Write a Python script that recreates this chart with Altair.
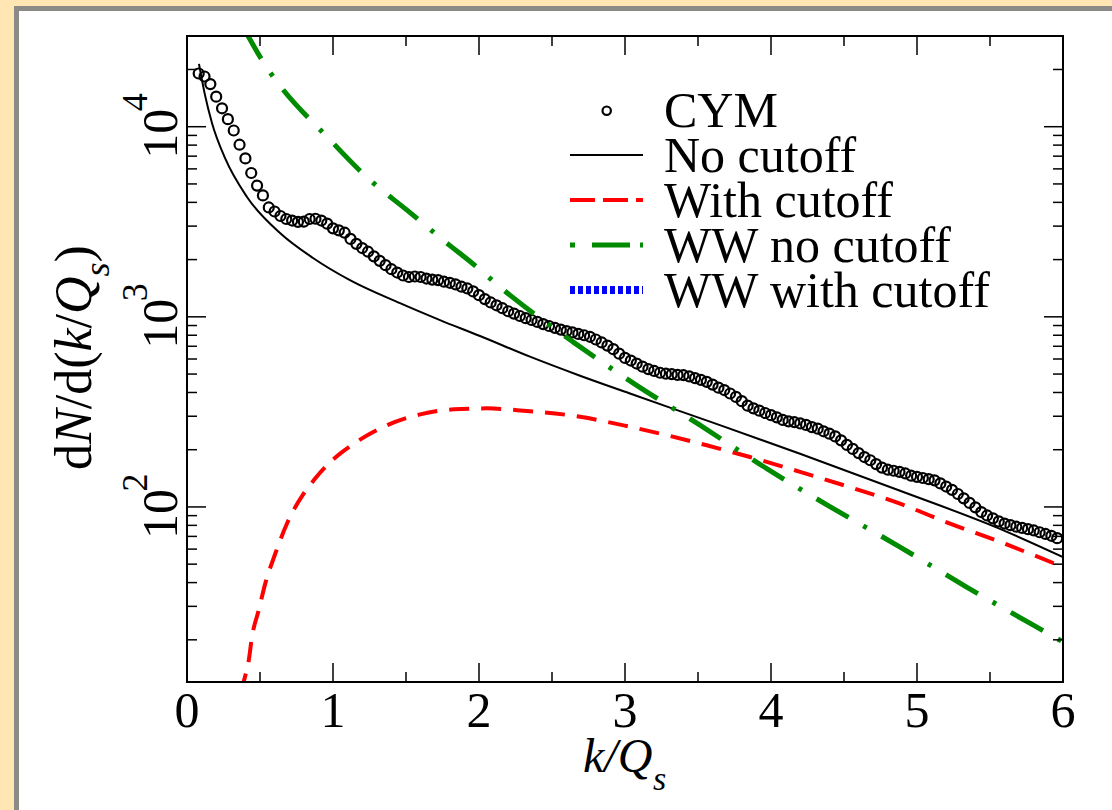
import altair as alt
import pandas as pd

# ---------------- data ----------------
cym_k = [0.08, 0.12, 0.16, 0.20, 0.24, 0.28, 0.32, 0.36, 0.40, 0.44, 0.48, 0.52,
         0.56, 0.60, 0.64, 0.68, 0.72, 0.76, 0.80, 0.84, 0.88, 0.92, 0.96, 1.00,
         1.04, 1.08, 1.12, 1.16, 1.20, 1.24, 1.28, 1.32, 1.36, 1.40, 1.44, 1.48,
         1.52, 1.56, 1.60, 1.64, 1.68, 1.72, 1.76, 1.80, 1.84, 1.88, 1.92, 1.96,
         2.00, 2.04, 2.08, 2.12, 2.16, 2.20, 2.24, 2.28, 2.32, 2.36, 2.40, 2.44,
         2.48, 2.52, 2.56, 2.60, 2.64, 2.68, 2.72, 2.76, 2.80, 2.84, 2.88, 2.92,
         2.96, 3.00, 3.04, 3.08, 3.12, 3.16, 3.20, 3.24, 3.28, 3.32, 3.36, 3.40,
         3.44, 3.48, 3.52, 3.56, 3.60, 3.64, 3.68, 3.72, 3.76, 3.80, 3.84, 3.88,
         3.92, 3.96, 4.00, 4.04, 4.08, 4.12, 4.16, 4.20, 4.24, 4.28, 4.32, 4.36,
         4.40, 4.44, 4.48, 4.52, 4.56, 4.60, 4.64, 4.68, 4.72, 4.76, 4.80, 4.84,
         4.88, 4.92, 4.96, 5.00, 5.04, 5.08, 5.12, 5.16, 5.20, 5.24, 5.28, 5.32,
         5.36, 5.40, 5.44, 5.48, 5.52, 5.56, 5.60, 5.64, 5.68, 5.72, 5.76, 5.80,
         5.84, 5.88, 5.92, 5.96]
cym_v = [19050, 18370, 16750, 14390, 12500, 10960, 9550, 8040, 6810, 5710, 4900, 4350,
         3760, 3580, 3390, 3270, 3210, 3160, 3170, 3270, 3280, 3210, 3090, 2920,
         2850, 2770, 2570, 2420, 2300, 2200, 2080, 1970, 1870, 1780, 1710, 1650,
         1620, 1630, 1620, 1590, 1570, 1560, 1530, 1510, 1480, 1440, 1410, 1360,
         1300, 1240, 1190, 1150, 1110, 1070, 1040, 1010, 984, 962, 940, 916,
         895, 875, 857, 841, 828, 813, 800, 785, 760, 733, 706, 676,
         640, 608, 589, 568, 547, 531, 519, 508, 502, 499, 495, 493,
         486, 476, 466, 455, 440, 424, 412, 395, 379, 360, 341, 330,
         321, 312, 304, 296, 287, 282, 279, 275, 270, 263, 258, 250,
         243, 235, 224, 212, 202, 192, 183, 176, 168, 161, 157, 155,
         153, 150, 146, 144, 142, 140, 138, 133, 128, 123, 117, 111,
         105, 99.5, 94.0, 90.2, 87.1, 83.9, 81.8, 80.2, 78.7, 77.6, 76.4, 75.2,
         73.6, 72.1, 70.5, 68.5]

nocut_k = [0.082, 0.123, 0.171, 0.26, 0.411, 0.637, 0.863, 1.116, 1.459, 1.733,
           2.007, 2.349, 2.692, 3.034, 3.582, 4.199, 4.884, 5.568, 6.0]
nocut_v = [21400, 14700, 10470, 6850, 4270, 2760, 2040, 1560, 1180, 961,
           793, 617, 490, 395, 281, 190.5, 121.6, 76.7, 54.5]

cut_k = [0.37, 0.388, 0.423, 0.445, 0.491, 0.536, 0.605, 0.685, 0.799, 0.868,
         0.959, 1.142, 1.370, 1.598, 1.827, 2.055, 2.260, 2.692, 3.034, 3.560,
         3.856, 4.199, 4.541, 4.884, 5.226, 5.568, 6.0]
cut_v = [10.5, 12.0, 15.6, 20.7, 28.6, 39.5, 56.9, 81.8, 117.5, 138,
         165.6, 215, 269, 307, 326, 330, 323, 298, 264, 211,
         183, 153, 127, 104, 81.7, 65.5, 48.3]

ww_k = [0.38, 0.42, 0.5, 1.002, 1.253, 1.505, 1.801, 1.916, 2.212, 2.646,
        3.080, 3.514, 3.971, 4.427, 4.884, 5.340, 5.797, 6.0]
ww_v = [33600, 29800, 23340, 8180, 5240, 3650, 2370, 2020, 1300, 736,
        436, 269, 159, 98, 61.5, 37.9, 23.9, 19.5]

legend_labels = ["CYM", "No cutoff", "With cutoff", "WW no cutoff", "WW with cutoff"]

x_major = [0, 1, 2, 3, 4, 5, 6]
x_minor = [0.5, 1.5, 2.5, 3.5, 4.5, 5.5]
y_major = [100, 1000, 10000]
y_exp = ["2", "3", "4"]
y_minor = [20, 30, 40, 50, 60, 70, 80, 90,
           200, 300, 400, 500, 600, 700, 800, 900,
           2000, 3000, 4000, 5000, 6000, 7000, 8000, 9000, 20000]

# ---------------- chart ----------------
W, H = 876, 646
FONT = "Liberation Serif"
xs = alt.Scale(domain=[0, 6], nice=False, zero=False)
ys = alt.Scale(type="log", domain=[12, 30000], nice=False)
one = pd.DataFrame({"a": [0]})

def X(f):
    return alt.X(f, type="quantitative", scale=xs, axis=None)

def Y(f):
    return alt.Y(f, type="quantitative", scale=ys, axis=None)

layers = []

# page background panel (grey border + white sheet)
layers.append(alt.Chart(one).mark_rect(color="#8c8a86").encode(
    x=alt.value(-173), x2=alt.value(940), y=alt.value(-30), y2=alt.value(790)))
layers.append(alt.Chart(one).mark_rect(color="white").encode(
    x=alt.value(-168), x2=alt.value(940), y=alt.value(-25), y2=alt.value(790)))

cym = pd.DataFrame({"k": cym_k, "v": cym_v})
nocut = pd.DataFrame({"k": nocut_k, "v": nocut_v})
cut = pd.DataFrame({"k": cut_k, "v": cut_v})
ww = pd.DataFrame({"k": ww_k, "v": ww_v})

layers.append(alt.Chart(cym).mark_point(shape="circle", filled=False, color="black",
                                         size=100, strokeWidth=2.2, opacity=1, clip=True)
              .encode(x=X("k"), y=Y("v")))
layers.append(alt.Chart(nocut).mark_line(color="black", strokeWidth=2, clip=True,
                                          interpolate="monotone")
              .encode(x=X("k"), y=Y("v")))
layers.append(alt.Chart(cut).mark_line(color="#ff0000", strokeWidth=4, clip=True,
                                        interpolate="monotone", strokeDash=[20, 12])
              .encode(x=X("k"), y=Y("v")))
layers.append(alt.Chart(ww).mark_line(color="#008b00", strokeWidth=5, clip=True,
                                       interpolate="monotone", strokeDash=[37, 17, 4, 17])
              .encode(x=X("k"), y=Y("v")))

# inward ticks on all four sides
tick_style = dict(color="black", strokeWidth=1.5)
for vals, ln in ((x_major, 19), (x_minor, 10)):
    d = pd.DataFrame({"t": vals})
    layers.append(alt.Chart(d).mark_rule(**tick_style).encode(
        x=X("t"), y=alt.value(H), y2=alt.value(H - ln)))
    layers.append(alt.Chart(d).mark_rule(**tick_style).encode(
        x=X("t"), y=alt.value(0), y2=alt.value(ln)))
for vals, ln in ((y_major, 19), (y_minor, 10)):
    d = pd.DataFrame({"t": vals})
    layers.append(alt.Chart(d).mark_rule(**tick_style).encode(
        y=Y("t"), x=alt.value(0), x2=alt.value(ln)))
    layers.append(alt.Chart(d).mark_rule(**tick_style).encode(
        y=Y("t"), x=alt.value(W), x2=alt.value(W - ln)))

# frame
layers.append(alt.Chart(one).mark_rect(fillOpacity=0, stroke="black", strokeWidth=2).encode(
    x=alt.value(0), x2=alt.value(W), y=alt.value(0), y2=alt.value(H)))

# x tick labels
xl = pd.DataFrame({"t": x_major, "lab": [str(v) for v in x_major]})
layers.append(alt.Chart(xl).mark_text(font=FONT, fontSize=50, baseline="alphabetic",
                                      align="center", color="black")
              .encode(x=X("t"), y=alt.value(691), text="lab:N"))

# y tick labels 10^n, rotated
yl = pd.DataFrame({"t": y_major, "base": ["10"] * len(y_major), "e": y_exp})
layers.append(alt.Chart(yl).mark_text(font=FONT, fontSize=50, baseline="alphabetic",
                                      align="center", angle=270, dx=-7, color="black")
              .encode(y=Y("t"), x=alt.value(-10), text="base:N"))
layers.append(alt.Chart(yl).mark_text(font=FONT, fontSize=36, baseline="alphabetic",
                                      align="center", angle=270, dx=24.5, color="black")
              .encode(y=Y("t"), x=alt.value(-40), text="e:N"))

# x axis title  k/Q_s
layers.append(alt.Chart(one).mark_text(font=FONT, fontSize=48, fontStyle="italic",
                                       align="left", baseline="alphabetic", text="k/Q")
              .encode(x=alt.value(396), y=alt.value(736)))
layers.append(alt.Chart(one).mark_text(font=FONT, fontSize=34, fontStyle="italic",
                                       align="left", baseline="alphabetic", text="s")
              .encode(x=alt.value(466), y=alt.value(754)))

# y axis title  dN/d(k/Q_s), rotated, built from pieces
pieces = [("d", "normal", 52, 434, -96), ("N", "italic", 52, 408, -96),
          ("/d(", "normal", 52, 373.3, -96), ("k", "italic", 52, 315.5, -96),
          ("/", "normal", 52, 292.4, -96), ("Q", "italic", 52, 277.9, -96),
          ("s", "italic", 36, 240.4, -78), (")", "normal", 52, 226.4, -96)]
for txt, style, fs, py, px in pieces:
    layers.append(alt.Chart(one).mark_text(font=FONT, fontSize=fs, fontStyle=style,
                                           align="left", baseline="alphabetic",
                                           angle=270, text=txt)
                  .encode(x=alt.value(px), y=alt.value(py)))

# legend
for i, lab in enumerate(legend_labels):
    layers.append(alt.Chart(one).mark_text(font=FONT, fontSize=50, align="left",
                                           baseline="alphabetic", text=lab, color="black")
                  .encode(x=alt.value(477), y=alt.value(90.7 + 45 * i)))
layers.append(alt.Chart(one).mark_point(shape="circle", filled=False, color="black",
                                        size=70, strokeWidth=2.2, opacity=1)
              .encode(x=alt.value(419.7), y=alt.value(74.7)))
leg_styles = [dict(color="black", strokeWidth=2),
              dict(color="#ff0000", strokeWidth=4, strokeDash=[25, 8]),
              dict(color="#008b00", strokeWidth=5, strokeDash=[5, 17, 38, 10]),
              dict(color="#0000ff", strokeWidth=8, strokeDash=[5, 3])]
for i, st in enumerate(leg_styles):
    yy = 119 + 45 * i
    layers.append(alt.Chart(one).mark_rule(**st).encode(
        x=alt.value(383), x2=alt.value(456), y=alt.value(yy)))

chart = alt.layer(*layers).properties(
    width=W, height=H,
    autosize=alt.AutoSizeParams(type="none"),
    padding={"left": 187, "top": 36, "right": 49, "bottom": 128},
    background="#ffe6b3",
).configure_view(stroke=None)

chart.save("out.html", embed_options={"renderer": "svg", "actions": False})
